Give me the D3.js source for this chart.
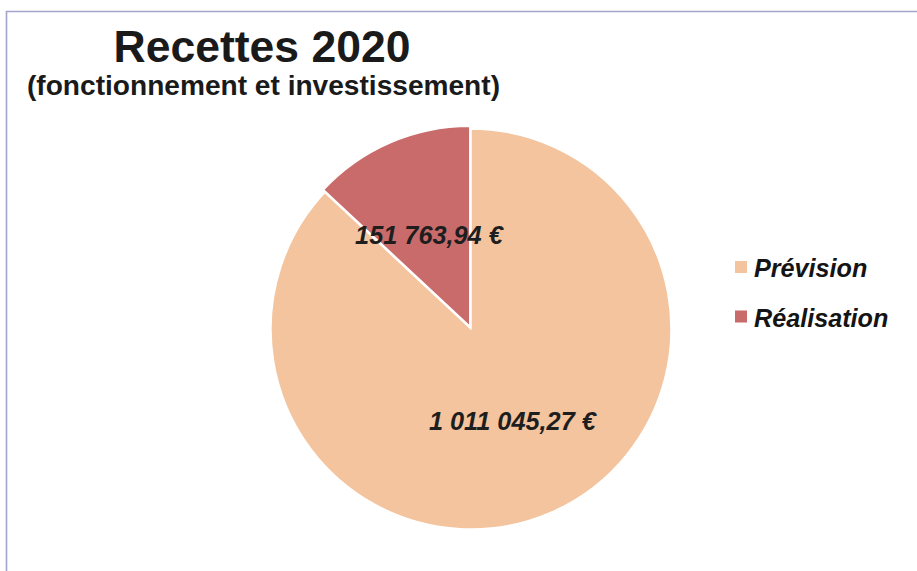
<!DOCTYPE html>
<html>
<head>
<meta charset="utf-8">
<script src="https://cdn.jsdelivr.net/npm/d3@7"></script>
<style>
  html, body { margin: 0; padding: 0; background: #fff; }
  svg { display: block; }
</style>
</head>
<body>
<svg id="chart" width="917" height="571"></svg>
<script>
const categories = ["Prévision", "Réalisation"];
const values = [1011045.27, 151763.94];
const valueLabels = ["1 011 045,27 €", "151 763,94 €"];
const colors = ["#F3C49D", "#C96B6B"];
const title = "Recettes 2020";
const subtitle = "(fonctionnement et investissement)";

const svg = d3.select("#chart");
const W = 917, H = 571;
svg.append("rect").attr("width", W).attr("height", H).attr("fill", "#fff");

// frame
svg.append("path")
  .attr("d", `M6.5,${H} L6.5,11.5 L${W},11.5`)
  .attr("fill", "none").attr("stroke", "#a4a4cc").attr("stroke-width", 1.6);

// titles
svg.append("text").attr("x", 262).attr("y", 62).attr("text-anchor", "middle")
  .attr("font-family", "Liberation Sans, Arial, sans-serif").attr("font-weight", "bold")
  .attr("font-size", 44.5).attr("fill", "#1a1a1a").text(title);
svg.append("text").attr("x", 263.5).attr("y", 95).attr("text-anchor", "middle")
  .attr("font-family", "Liberation Sans, Arial, sans-serif").attr("font-weight", "bold")
  .attr("font-size", 28.1).attr("fill", "#1a1a1a").text(subtitle);

// pie
const cx = 471, cy = 329, R = 200;
const data = categories.map((c, i) => ({ cat: c, value: values[i], label: valueLabels[i], color: colors[i] }));
const pie = d3.pie().sort(null).value(d => d.value);
const arc = d3.arc().innerRadius(0).outerRadius(R);
const arcs = pie(data);
const explode = [0, 3];

const g = svg.append("g").attr("transform", `translate(${cx},${cy})`);
const slices = g.selectAll("g.slice").data(arcs).enter().append("g")
  .attr("class", "slice")
  .attr("transform", (d, i) => {
    const a = (d.startAngle + d.endAngle) / 2;
    const e = explode[i];
    return `translate(${e * Math.sin(a)},${-e * Math.cos(a)})`;
  });
slices.append("path").attr("d", arc).attr("fill", d => d.data.color)
  .attr("stroke", "#fff").attr("stroke-width", 1.5).attr("stroke-linejoin", "round");
slices.append("text")
  .attr("transform", (d, i) => {
    const c = arc.centroid(d);
    return `translate(${c[0] + (i === 0 ? 1.5 : -1)},${c[1]})`;
  })
  .attr("text-anchor", "middle").attr("dy", "0.36em")
  .attr("font-family", "Liberation Sans, Arial, sans-serif").attr("font-weight", "bold")
  .attr("font-style", "italic").attr("font-size", 25.3).attr("fill", "#1e1e1e")
  .text(d => d.data.label);

// legend
const legend = svg.append("g").attr("transform", "translate(735,261)");
const items = legend.selectAll("g").data(data).enter().append("g")
  .attr("transform", (d, i) => `translate(0,${i * 49.5})`);
items.append("rect").attr("width", 12).attr("height", 12).attr("fill", d => d.color);
items.append("text").attr("x", 19).attr("y", 16)
  .attr("font-family", "Liberation Sans, Arial, sans-serif").attr("font-weight", "bold")
  .attr("font-style", "italic").attr("font-size", 25.2).attr("fill", "#141414")
  .text(d => d.cat);
</script>
</body>
</html>
